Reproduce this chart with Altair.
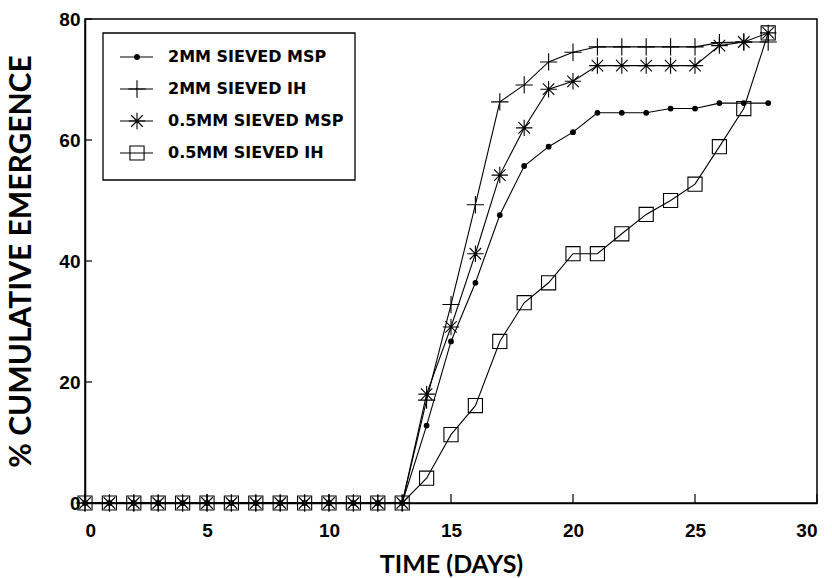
import altair as alt
import pandas as pd

days = list(range(0, 29))
series_names = ["2MM SIEVED MSP", "2MM SIEVED IH", "0.5MM SIEVED MSP", "0.5MM SIEVED IH"]
zeros = [0.0] * 14
msp_2mm = zeros + [12.8, 26.7, 36.4, 47.6, 55.7, 58.9, 61.3, 64.5, 64.5, 64.5, 65.2, 65.2, 66.1, 66.1, 66.1]
ih_2mm = zeros + [17.0, 32.8, 49.3, 66.3, 69.1, 72.9, 74.5, 75.4, 75.4, 75.4, 75.4, 75.4, 76.1, 76.2, 76.2]
msp_05mm = zeros + [18.0, 29.1, 41.2, 54.2, 62.0, 68.4, 69.7, 72.3, 72.3, 72.3, 72.3, 72.3, 75.6, 76.2, 77.7]
ih_05mm = zeros + [4.1, 11.3, 16.1, 26.7, 33.1, 36.4, 41.2, 41.2, 44.5, 47.7, 50.0, 52.7, 58.9, 65.2, 77.7]
series_values = [msp_2mm, ih_2mm, msp_05mm, ih_05mm]
x_ticks = [0, 5, 10, 15, 20, 25, 30]
y_ticks = [0, 20, 40, 60, 80]

W, H = 732, 484
PLUS = "M-1,0L1,0M0,-1L0,1"
STAR = "M-1,0L1,0M0,-1L0,1M-0.7,-0.7L0.7,0.7M-0.7,0.7L0.7,-0.7"
styles = [
    dict(shape="circle", size=22, fill="black"),
    dict(shape=PLUS, size=300, fill="transparent"),
    dict(shape=STAR, size=270, fill="transparent"),
    dict(shape="square", size=200, fill="transparent"),
]

xscale = alt.Scale(domain=[0, 30], nice=False)
yscale = alt.Scale(domain=[0, 80], nice=False)

base_x = alt.X("day:Q", scale=xscale, axis=alt.Axis(
    values=x_ticks, tickSize=0, labelPadding=18, title="TIME (DAYS)", titlePadding=12,
    titleFontSize=25, grid=False))
base_y = alt.Y("value:Q", scale=yscale, axis=alt.Axis(
    values=y_ticks, tickSize=0, labelPadding=5, title="% CUMULATIVE EMERGENCE",
    titlePadding=22, titleFontSize=30, grid=False))

layers = []
for i, (name, vals) in enumerate(zip(series_names, series_values)):
    d = pd.DataFrame({"day": days, "value": vals, "series": name})
    line = alt.Chart(d).mark_line(color="black", strokeWidth=1.1, clip=False).encode(
        x=base_x if i == 0 else alt.X("day:Q", scale=xscale),
        y=base_y if i == 0 else alt.Y("value:Q", scale=yscale),
        order="day:Q",
    )
    layers.append(line)
for i, (name, vals) in enumerate(zip(series_names, series_values)):
    d = pd.DataFrame({"day": days, "value": vals, "series": name})
    st = styles[i]
    pts = alt.Chart(d).mark_point(
        shape=st["shape"], size=st["size"], fill=st["fill"], stroke="black",
        strokeWidth=1.1, opacity=1, fillOpacity=1, filled=False, clip=False
    ).encode(x=alt.X("day:Q", scale=xscale), y=alt.Y("value:Q", scale=yscale))
    layers.append(pts)

# inner ticks
xt = pd.DataFrame({"t": x_ticks})
yt = pd.DataFrame({"t": y_ticks})
layers.append(alt.Chart(xt).mark_rule(color="black", strokeWidth=1.2).encode(
    x=alt.X("t:Q", scale=xscale), y=alt.value(H), y2=alt.value(H - 9)))
layers.append(alt.Chart(yt).mark_rule(color="black", strokeWidth=1.2).encode(
    y=alt.Y("t:Q", scale=yscale), x=alt.value(0), x2=alt.value(7)))

# legend
box = pd.DataFrame({"a": [0]})
layers.append(alt.Chart(box).mark_rect(fill="white", stroke="black", strokeWidth=1.3).encode(
    x=alt.value(18), x2=alt.value(270), y=alt.value(14), y2=alt.value(161)))
for i, name in enumerate(series_names):
    ld = pd.DataFrame({"label": [name]})
    yy = 38 + 32 * i
    st = styles[i]
    layers.append(alt.Chart(ld).mark_rule(color="black", strokeWidth=1.1).encode(
        x=alt.value(35), x2=alt.value(68), y=alt.value(yy)))
    layers.append(alt.Chart(ld).mark_point(
        shape=st["shape"], size=st["size"], fill=st["fill"], stroke="black",
        strokeWidth=1.1, opacity=1, fillOpacity=1, filled=False
    ).encode(x=alt.value(52), y=alt.value(yy)))
    layers.append(alt.Chart(ld).mark_text(
        align="left", baseline="middle", font="DejaVu Sans", fontWeight="bold",
        fontSize=16, color="black").encode(
        x=alt.value(83), y=alt.value(yy), text="label:N"))

chart = alt.layer(*layers).properties(
    width=W, height=H,
    padding={"left": 85, "top": 19, "right": 15, "bottom": 75},
    autosize=alt.AutoSizeParams(type="none"),
    background="white",
).configure_view(stroke="black", strokeWidth=1.5).configure_axis(
    domainColor="black", domainWidth=1.5,
    labelFont="Liberation Sans", labelFontWeight="bold", labelFontSize=19, labelColor="black",
    titleFont="Lato", titleFontWeight="bold", titleColor="black",
)

chart.save("out.html", embed_options={"renderer": "svg", "actions": False})
